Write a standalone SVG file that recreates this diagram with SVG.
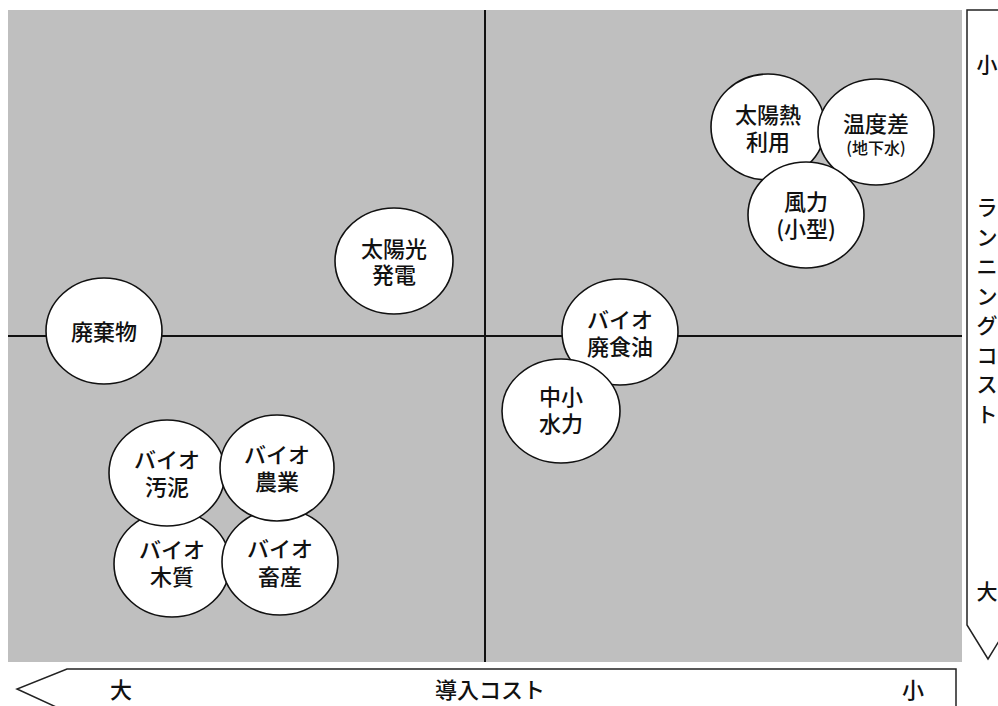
<svg xmlns="http://www.w3.org/2000/svg" width="998" height="706" viewBox="0 0 998 706">
<style>
.bg{fill:#bfbfbf}
.ax{stroke:#111;stroke-width:2;fill:none}
.arr{stroke:#222;stroke-width:1.5;fill:#fff}
.node ellipse{fill:#fff;stroke:#111;stroke-width:1.6}
text{font-family:"Noto Sans CJK JP","Noto Sans",sans-serif;fill:#111;font-size:22px;font-weight:500;text-anchor:middle}
.sm{font-size:16px}
.vt{font-size:21px}
</style>
<rect class="bg" x="8" y="10" width="954" height="652"/>
<g id="connectors">
<line class="ax" x1="485" y1="10" x2="485" y2="662"/>
<line class="ax" x1="8" y1="336" x2="962" y2="336"/>
</g>
<g id="axis-running">
<path class="arr" d="M1010,10 L967,10 L967,625 L988,659 L1010,623"/>
<text class="vt" x="987" y="72">小</text>
<text class="vt" x="987" y="215"><tspan x="987">ラ</tspan><tspan x="987" dy="29.5">ン</tspan><tspan x="987" dy="29.5">ニ</tspan><tspan x="987" dy="29.5">ン</tspan><tspan x="987" dy="29.5">グ</tspan><tspan x="987" dy="29.5">コ</tspan><tspan x="987" dy="29.5">ス</tspan><tspan x="987" dy="29.5">ト</tspan></text>
<text class="vt" x="987" y="599">大</text>
</g>
<g id="axis-initial">
<path class="arr" d="M67,712 L17,689 L67,669 L956,669 L956,712"/>
<text x="121" y="698">大</text>
<text x="490" y="698">導入コスト</text>
<text x="913" y="698">小</text>
</g>
<g id="n-solarpv" class="node"><ellipse cx="394" cy="261" rx="59" ry="53"/><text x="394" y="257">太陽光<tspan x="394" dy="26">発電</tspan></text></g>
<g id="n-waste" class="node"><ellipse cx="104" cy="331" rx="58" ry="53"/><text x="104" y="340">廃棄物</text></g>
<g id="n-solarheat" class="node"><ellipse cx="768" cy="127" rx="57" ry="53"/><text x="768" y="123">太陽熱<tspan x="768" dy="27">利用</tspan></text></g>
<g id="n-tempdiff" class="node"><ellipse cx="876" cy="132" rx="58" ry="53"/><text x="876" y="132">温度差<tspan class="sm" x="876" dy="22">(地下水)</tspan></text></g>
<g id="n-wind" class="node"><ellipse cx="806" cy="215" rx="58" ry="53"/><text x="806" y="210">風力<tspan x="806" dy="27">(小型)</tspan></text></g>
<g id="n-biooil" class="node"><ellipse cx="620" cy="332" rx="58" ry="53"/><text x="620" y="328">バイオ<tspan x="620" dy="27">廃食油</tspan></text></g>
<g id="n-hydro" class="node"><ellipse cx="561" cy="411" rx="59" ry="52"/><text x="561" y="405">中小<tspan x="561" dy="27">水力</tspan></text></g>
<g id="n-biowood" class="node"><ellipse cx="172" cy="564" rx="58" ry="53"/><text x="172" y="558">バイオ<tspan x="172" dy="27">木質</tspan></text></g>
<g id="n-biolivestock" class="node"><ellipse cx="280" cy="562" rx="58" ry="53"/><text x="280" y="557">バイオ<tspan x="280" dy="28">畜産</tspan></text></g>
<g id="n-biosludge" class="node"><ellipse cx="167" cy="473" rx="58" ry="53"/><text x="167" y="468">バイオ<tspan x="167" dy="27">汚泥</tspan></text></g>
<g id="n-bioagri" class="node"><ellipse cx="277" cy="468" rx="57" ry="53"/><text x="277" y="463">バイオ<tspan x="277" dy="27">農業</tspan></text></g>
</svg>
